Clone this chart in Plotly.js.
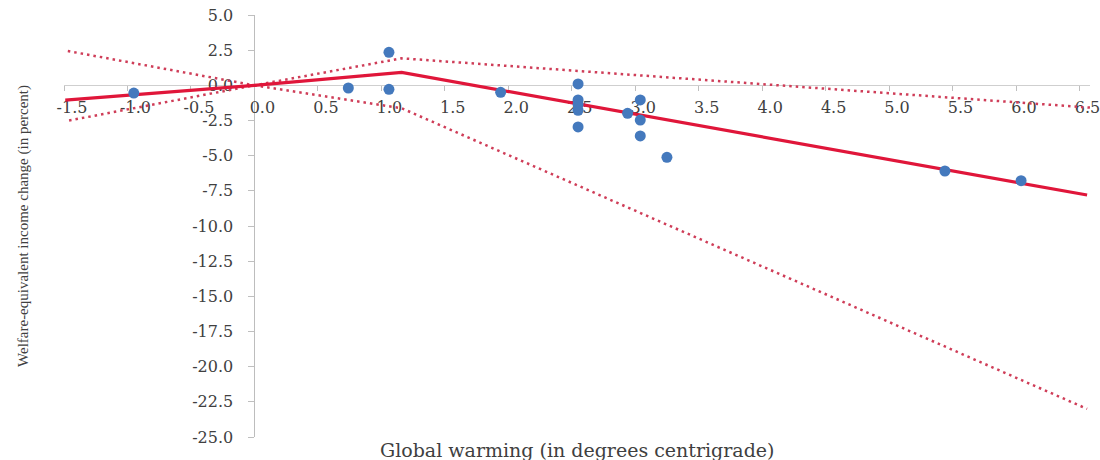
<!DOCTYPE html>
<html>
<head>
<meta charset="utf-8">
<script src="https://cdn.plot.ly/plotly-3.0.1.min.js"></script>
<style>
  html, body { margin: 0; padding: 0; background: #ffffff; }
  #chart { width: 1100px; height: 460px; }
</style>
</head>
<body>
<div id="chart"></div>
<script>
// Observed studies: global warming (deg C) vs welfare-equivalent income change (%)
const pointX = [-0.95, 0.74, 1.06, 1.06, 1.94, 2.55, 2.55, 2.55, 2.55, 2.55, 2.94, 3.04, 3.04, 3.04, 3.25, 5.44, 6.04];
const pointY = [-0.55, -0.19, 2.35, -0.28, -0.50, 0.10, -1.04, -1.36, -1.78, -2.96, -1.99, -1.04, -2.47, -3.60, -5.12, -6.09, -6.78];

// Fitted piecewise-linear curve
const fitX = [-1.49, 0.0, 1.16, 6.56];
const fitY = [-1.05, 0.0, 0.92, -7.80];

// Upper confidence bound
const upperX = [-1.47, 0.0, 1.16, 6.64];
const upperY = [2.44, 0.0, 1.92, -1.62];

// Lower confidence bound
const lowerX = [-1.46, 0.0, 1.16, 6.56];
const lowerY = [-2.50, 0.0, -1.63, -23.0];

// Tick labels
const xTickVals = [-1.5, -1.0, -0.5, 0.0, 0.5, 1.0, 1.5, 2.0, 2.5, 3.0, 3.5, 4.0, 4.5, 5.0, 5.5, 6.0, 6.5];
const xTickText = ['-1.5', '-1.0', '-0.5', '0.0', '0.5', '1.0', '1.5', '2.0', '2.5', '3.0', '3.5', '4.0', '4.5', '5.0', '5.5', '6.0', '6.5'];
const yTickVals = [5, 2.5, 0, -2.5, -5, -7.5, -10, -12.5, -15, -17.5, -20, -22.5, -25];
const yTickText = ['5.0', '2.5', '0.0', '-2.5', '-5.0', '-7.5', '-10.0', '-12.5', '-15.0', '-17.5', '-20.0', '-22.5', '-25.0'];

const xTitle = 'Global warming (in degrees centrigrade)';
const yTitle = 'Welfare-equivalent income change (in percent)';

const xRange = [-1.5, 6.583];
const yRange = [-25, 5];

const dotStyle = { color: '#cf3d58', width: 2.5, dash: '2.5px,4px' };

const traces = [
  { x: upperX, y: upperY, type: 'scatter', mode: 'lines', line: dotStyle, hoverinfo: 'skip' },
  { x: lowerX, y: lowerY, type: 'scatter', mode: 'lines', line: dotStyle, hoverinfo: 'skip' },
  { x: fitX, y: fitY, type: 'scatter', mode: 'lines', line: { color: '#e0163a', width: 3.2 }, hoverinfo: 'skip' },
  { x: pointX, y: pointY, type: 'scatter', mode: 'markers',
    marker: { color: '#4479bd', size: 11, line: { width: 0 } }, cliponaxis: false }
];

const tickFont = { family: 'DejaVu Serif', size: 16, color: '#404040' };

const layout = {
  width: 1100, height: 460,
  margin: { l: 64, r: 10, t: 15, b: 23 },
  paper_bgcolor: '#ffffff', plot_bgcolor: '#ffffff',
  showlegend: false,
  xaxis: {
    range: xRange, anchor: 'free',
    position: (0 - yRange[0]) / (yRange[1] - yRange[0]),
    showline: true, linecolor: '#cfcfcf', linewidth: 1,
    ticks: 'outside', ticklen: 5, tickcolor: '#bfbfbf',
    tickmode: 'array', tickvals: xTickVals, ticktext: xTickText,
    showgrid: false, zeroline: false, layer: 'below traces',
    tickfont: tickFont, ticklabelshift: 8, ticklabelstandoff: 2,
    ticklabeloverflow: 'allow'
  },
  yaxis: {
    range: yRange, anchor: 'free',
    position: (0 - xRange[0]) / (xRange[1] - xRange[0]),
    showline: true, linecolor: '#bdbdbd', linewidth: 1,
    ticks: 'outside', ticklen: 6, tickcolor: '#bfbfbf',
    tickmode: 'array', tickvals: yTickVals, ticktext: yTickText,
    showgrid: false, zeroline: false, layer: 'below traces',
    tickfont: tickFont, ticklabelstandoff: 12, ticklabeloverflow: 'allow'
  },
  annotations: [
    { text: xTitle, xref: 'paper', yref: 'paper', x: 0.5, y: -0.031,
      xanchor: 'center', yanchor: 'middle', showarrow: false,
      font: { family: 'DejaVu Serif', size: 19, color: '#404040' } },
    { text: yTitle, xref: 'paper', yref: 'paper', x: -0.04, y: 0.5,
      xanchor: 'center', yanchor: 'middle', showarrow: false, textangle: -90,
      font: { family: 'Liberation Serif', size: 15, color: '#404040' } }
  ]
};

Plotly.newPlot('chart', traces, layout, { displayModeBar: false, staticPlot: true });
</script>
</body>
</html>
